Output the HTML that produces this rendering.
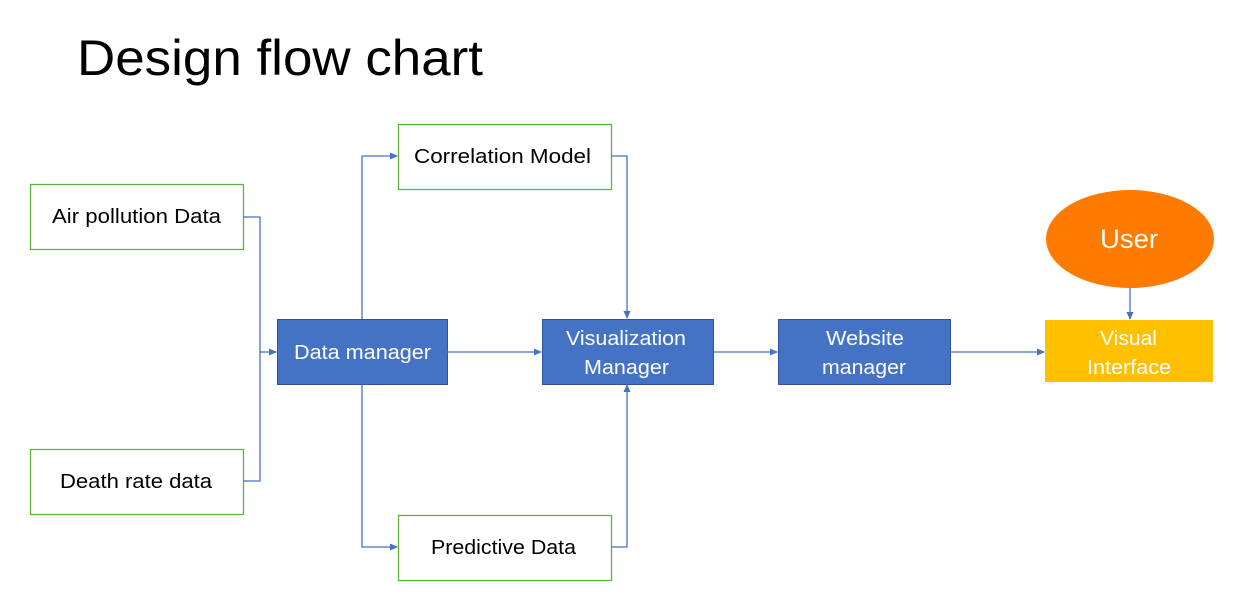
<!DOCTYPE html>
<html><head><meta charset="utf-8"><style>
html,body{margin:0;padding:0;background:#fff;width:1242px;height:603px;overflow:hidden}
svg text{font-family:"Liberation Sans",sans-serif}
</style></head><body>
<svg width="1242" height="603" viewBox="0 0 1242 603" xmlns="http://www.w3.org/2000/svg">
<defs><marker id="a" markerWidth="8" markerHeight="8" refX="7" refY="4" orient="auto" markerUnits="userSpaceOnUse"><path d="M0,0.5 L8,4 L0,7.5 Z" fill="#4472c4"/></marker></defs>
<text x="77" y="75" font-size="50" fill="#000" textLength="406" lengthAdjust="spacingAndGlyphs">Design flow chart</text>
<g fill="#fff" stroke="#5db33e" stroke-width="1.3">
<rect x="30.5" y="184.5" width="213" height="65"/>
<rect x="30.5" y="449.5" width="213" height="65"/>
<rect x="398.5" y="124.5" width="213" height="65"/>
<rect x="398.5" y="515.5" width="213" height="65"/>
</g>
<g fill="#4472c4" stroke="#2f529a" stroke-width="1">
<rect x="277.5" y="319.5" width="170" height="65"/>
<rect x="542.5" y="319.5" width="171" height="65"/>
<rect x="778.5" y="319.5" width="172" height="65"/>
</g>
<rect x="1045" y="320" width="168" height="62" fill="#ffc000"/>
<ellipse cx="1130" cy="239" rx="84" ry="49" fill="#fe7b00"/>
<g fill="none" stroke="#4472c4" stroke-width="1.3">
<path d="M243,217 H260 V481 H243"/>
<path d="M260,352 H276" marker-end="url(#a)"/>
<path d="M362,319 V156 H397" marker-end="url(#a)"/>
<path d="M362,384 V547 H397" marker-end="url(#a)"/>
<path d="M447,352 H541" marker-end="url(#a)"/>
<path d="M611,156 H627 V318" marker-end="url(#a)"/>
<path d="M611,547 H627 V385" marker-end="url(#a)"/>
<path d="M713,352 H777" marker-end="url(#a)"/>
<path d="M950,352 H1044" marker-end="url(#a)"/>
<path d="M1130,288 V319" marker-end="url(#a)"/>
</g>
<g font-size="20" fill="#000">
<text x="52" y="223" textLength="169" lengthAdjust="spacingAndGlyphs">Air pollution Data</text>
<text x="60" y="488" textLength="152" lengthAdjust="spacingAndGlyphs">Death rate data</text>
<text x="414" y="163" textLength="177" lengthAdjust="spacingAndGlyphs">Correlation Model</text>
<text x="431" y="554" textLength="145" lengthAdjust="spacingAndGlyphs">Predictive Data</text>
</g>
<g font-size="20" fill="#fff">
<text x="294" y="359" textLength="137" lengthAdjust="spacingAndGlyphs">Data manager</text>
<text x="566" y="345" textLength="120" lengthAdjust="spacingAndGlyphs">Visualization</text>
<text x="584" y="374" textLength="85" lengthAdjust="spacingAndGlyphs">Manager</text>
<text x="826" y="345" textLength="78" lengthAdjust="spacingAndGlyphs">Website</text>
<text x="822" y="374" textLength="84" lengthAdjust="spacingAndGlyphs">manager</text>
<text x="1100" y="345" textLength="57" lengthAdjust="spacingAndGlyphs">Visual</text>
<text x="1087" y="374" textLength="84" lengthAdjust="spacingAndGlyphs">Interface</text>
<text x="1100" y="248" font-size="27" textLength="58" lengthAdjust="spacingAndGlyphs">User</text>
</g>
</svg>
</body></html>
